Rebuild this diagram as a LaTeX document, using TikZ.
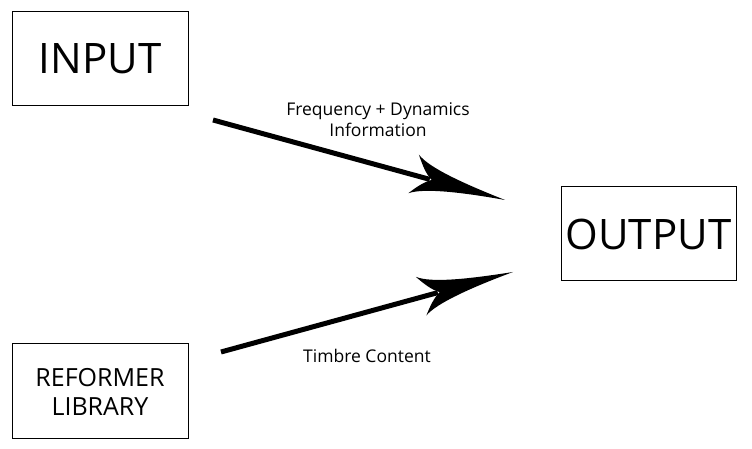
\documentclass[tikz,border=0pt]{standalone}
\usepackage{fontspec}
\setmainfont{Open Sans}
\usetikzlibrary{calc}
\tikzset{
  box/.style={draw=black, line width=1pt, inner sep=0pt, align=center},
  lbl/.style={inner sep=0pt, align=center, font=\fontsize{17.5}{21}\selectfont},
  shaft/.style={line width=5pt},
  bighead/.pic={
    \fill (0,0) .. controls (-45,5) and (-82,11) .. (-95,21)
      .. controls (-89,12) and (-83,4) .. (-76,0)
      .. controls (-83,-4) and (-89,-11) .. (-95,-19)
      .. controls (-82,-10) and (-45,-4) .. (0,0) -- cycle;
  }
}
\begin{document}
\begin{tikzpicture}[x=1pt,y=1pt]
\useasboundingbox (0,0) rectangle (752,449);
\node[box, minimum width=176pt, minimum height=94pt, font=\fontsize{42}{48}\selectfont] (in) at (100,390) {INPUT};
\node[box, minimum width=175pt, minimum height=94pt, font=\fontsize{42}{48}\selectfont] (out) at (648.5,215) {OUTPUT};
\node[box, minimum width=176pt, minimum height=95pt, font=\fontsize{25}{29}\selectfont] (lib) at (100,57.5) {REFORMER\\LIBRARY};
\coordinate (s1) at (213,329);
\coordinate (t1) at (505,249);
\coordinate (s2) at (221,97);
\coordinate (t2) at (513,177);
\draw[shaft] (s1) -- ($(t1)!78pt!(s1)$);
\pic[rotate=-15.32] at (t1) {bighead};
\draw[shaft] (s2) -- ($(t2)!78pt!(s2)$);
\pic[rotate=15.32] at (t2) {bighead};
\node[lbl] (l1) at (378,329) {Frequency + Dynamics\\Information};
\node[lbl] (l2) at (367,93) {Timbre Content};
\end{tikzpicture}
\end{document}
